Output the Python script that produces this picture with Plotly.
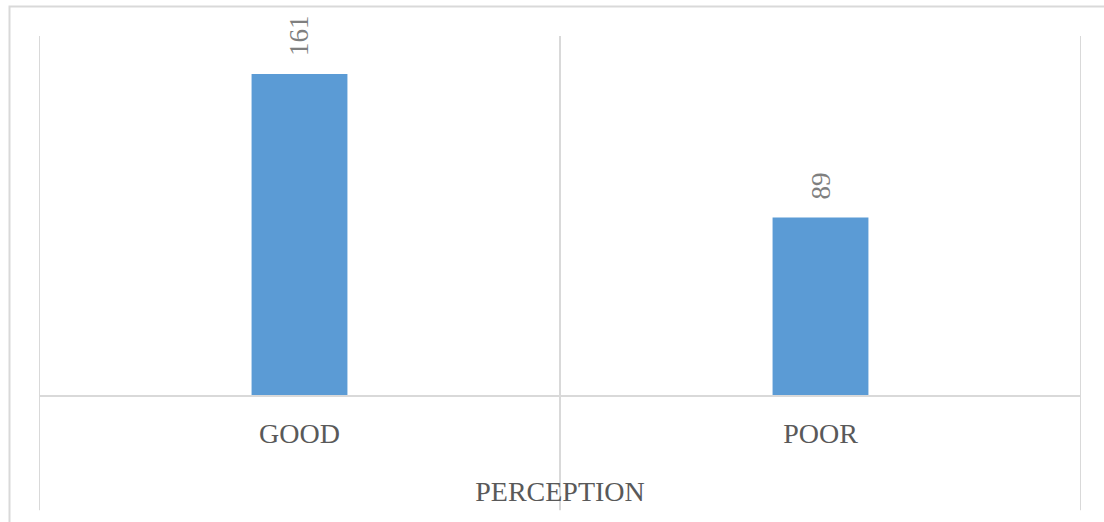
import plotly.graph_objects as go

categories = ["GOOD", "POOR"]
values = [161, 89]
axis_title = "PERCEPTION"

BAR = "#5b9bd5"
GRID = "#d9d9d9"
FONT = "Liberation Serif, Times New Roman, serif"

fig = go.Figure()
fig.add_trace(go.Bar(
    x=categories, y=values, marker_color=BAR, marker_line_width=0,
    width=0.184,
))

for c, v in zip(categories, values):
    fig.add_annotation(
        x=c, y=v, xref="x", yref="y", text=str(v), textangle=-90,
        showarrow=False, yanchor="bottom", yshift=16,
        font=dict(family=FONT, size=27, color="#7f7f7f"),
    )

shapes = []
for i in range(len(categories) + 1):
    shapes.append(dict(type="line", xref="x", yref="paper", x0=i - 0.5, x1=i - 0.5,
                       y0=-0.321, y1=1.0, line=dict(color=GRID, width=2), layer="below"))
shapes.append(dict(type="rect", xref="paper", yref="paper", x0=-0.0283, x1=1.2,
                   y0=-0.6, y1=1.082, line=dict(color=GRID, width=2), layer="below"))

fig.update_layout(
    width=1104, height=522,
    margin=dict(l=39, r=23, t=36, b=126.5),
    paper_bgcolor="white", plot_bgcolor="white",
    showlegend=False,
    shapes=shapes,
    xaxis=dict(
        range=[-0.5, len(categories) - 0.5],
        showline=True, linecolor=GRID, linewidth=2,
        showgrid=False, ticks="", zeroline=False,
        tickfont=dict(family=FONT, size=28, color="#595959"),
        ticklabelstandoff=12,
        title=dict(text=axis_title, font=dict(family=FONT, size=28, color="#595959"), standoff=34),
    ),
    yaxis=dict(range=[0, 180], visible=False, showgrid=False, zeroline=False),
)

fig.write_html("out.html")
